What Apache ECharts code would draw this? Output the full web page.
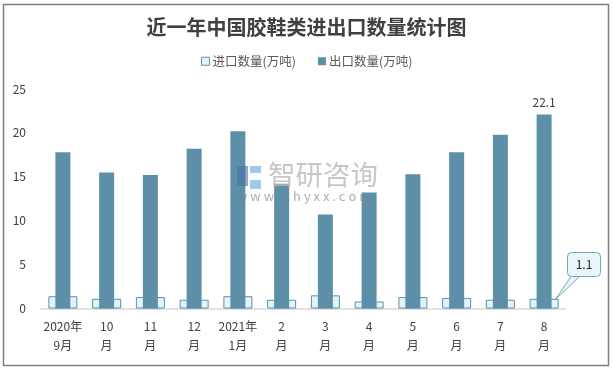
<!DOCTYPE html>
<html><head><meta charset="utf-8">
<style>html,body{margin:0;padding:0;background:#fff}#c{width:613px;height:370px}</style>
<script src="https://cdn.jsdelivr.net/npm/echarts@6/dist/echarts.min.js"></script>
</head><body><div id="c"></div>
<script>
const categories=['2020年\n9月','10\n月','11\n月','12\n月','2021年\n1月','2\n月','3\n月','4\n月','5\n月','6\n月','7\n月','8\n月'];
const importVals=[1.4,1.1,1.3,1.0,1.4,1.0,1.5,0.8,1.3,1.2,1.0,1.1];
const exportVals=[17.8,15.5,15.2,18.2,20.2,14.2,10.7,13.2,15.3,17.8,19.8,22.1];
const importName='进口数量(万吨)', exportName='出口数量(万吨)';
const font='"Noto Sans CJK SC","Noto Sans",sans-serif';
const chart=echarts.init(document.getElementById('c'),null,{renderer:'canvas'});
const lastIdx=categories.length-1;
const baseGraphic=[
 {type:'rect',z:0,shape:{x:3.5,y:4.5,width:605,height:361},style:{fill:'#fff',stroke:'#7f7f7f',lineWidth:1.5}},
 {type:'text',z:20,x:268,y:161,style:{text:'智研咨询',font:'27.5px '+font,fill:'rgba(185,185,185,0.8)'}},
 {type:'text',z:20,x:237,y:190,style:{text:'w w w . c h y x x . c o m',font:'13px '+font,fill:'rgba(130,130,130,0.65)'}},
 {type:'rect',z:20,shape:{x:237,y:166,width:11,height:20},style:{fill:'rgba(70,110,170,0.6)'}},
 {type:'rect',z:20,shape:{x:250,y:166,width:11,height:7},style:{fill:'rgba(120,180,225,0.7)'}},
 {type:'rect',z:20,shape:{x:250,y:180,width:11,height:9},style:{fill:'rgba(120,180,225,0.7)'}}
];
chart.setOption({
 animation:false,
 backgroundColor:'#fff',
 title:{text:'近一年中国胶鞋类进出口数量统计图',left:'center',top:17,padding:0,
  textStyle:{fontFamily:font,fontSize:20,fontWeight:'bold',color:'#404040'}},
 legend:{top:55,left:201,padding:0,itemWidth:8,itemHeight:8,itemGap:22,icon:'rect',
  itemStyle:{borderWidth:1},
  textStyle:{fontFamily:font,fontSize:12.5,color:'#595959',padding:[0,0,0,-2]},
  data:[importName,exportName]},
 grid:{left:41,right:47,top:89,bottom:61.5},
 xAxis:[
  {type:'category',data:categories,axisTick:{show:false},axisLine:{lineStyle:{color:'#d9d9d9',width:1.5}},
   axisLabel:{interval:0,fontFamily:font,fontSize:12,color:'#404040',lineHeight:19,margin:8}},
  {type:'category',data:categories,show:false}
 ],
 yAxis:{type:'value',min:0,max:25,interval:5,splitLine:{show:false},axisLine:{show:false},axisTick:{show:false},
  axisLabel:{fontFamily:font,fontSize:12,color:'#404040',margin:15}},
 series:[
  {name:importName,type:'bar',xAxisIndex:0,barWidth:29,z:2,data:importVals,
   itemStyle:{color:'#e2f4fb',borderColor:'#5d90a8',borderWidth:1}},
  {name:exportName,type:'bar',xAxisIndex:1,barWidth:15,z:3,
   data:exportVals.map((v,i)=>i===lastIdx?{value:v,label:{show:true,position:'top',distance:6,fontFamily:font,fontSize:12,color:'#404040'}}:v),
   itemStyle:{color:'#5d90a8'}}
 ],
 graphic:baseGraphic
});
const tip=chart.convertToPixel({xAxisIndex:0,yAxisIndex:0},[lastIdx,importVals[lastIdx]]);
const tx=tip[0]+11, ty=tip[1]+1;
chart.setOption({graphic:baseGraphic.concat([
 {type:'polygon',z:10,shape:{points:[[572,275],[581,275],[tx,ty]]},style:{fill:'#e8f6fa',stroke:'#7ba6ba',lineWidth:1}},
 {type:'rect',z:11,shape:{x:567.5,y:252.5,width:33,height:24,r:4},style:{fill:'#e8f6fa',stroke:'#7ba6ba',lineWidth:1}},
 {type:'text',z:12,x:584,y:264.5,style:{text:String(importVals[lastIdx]),font:'12px '+font,fill:'#262626',align:'center',verticalAlign:'middle'}}
])});
</script></body></html>
